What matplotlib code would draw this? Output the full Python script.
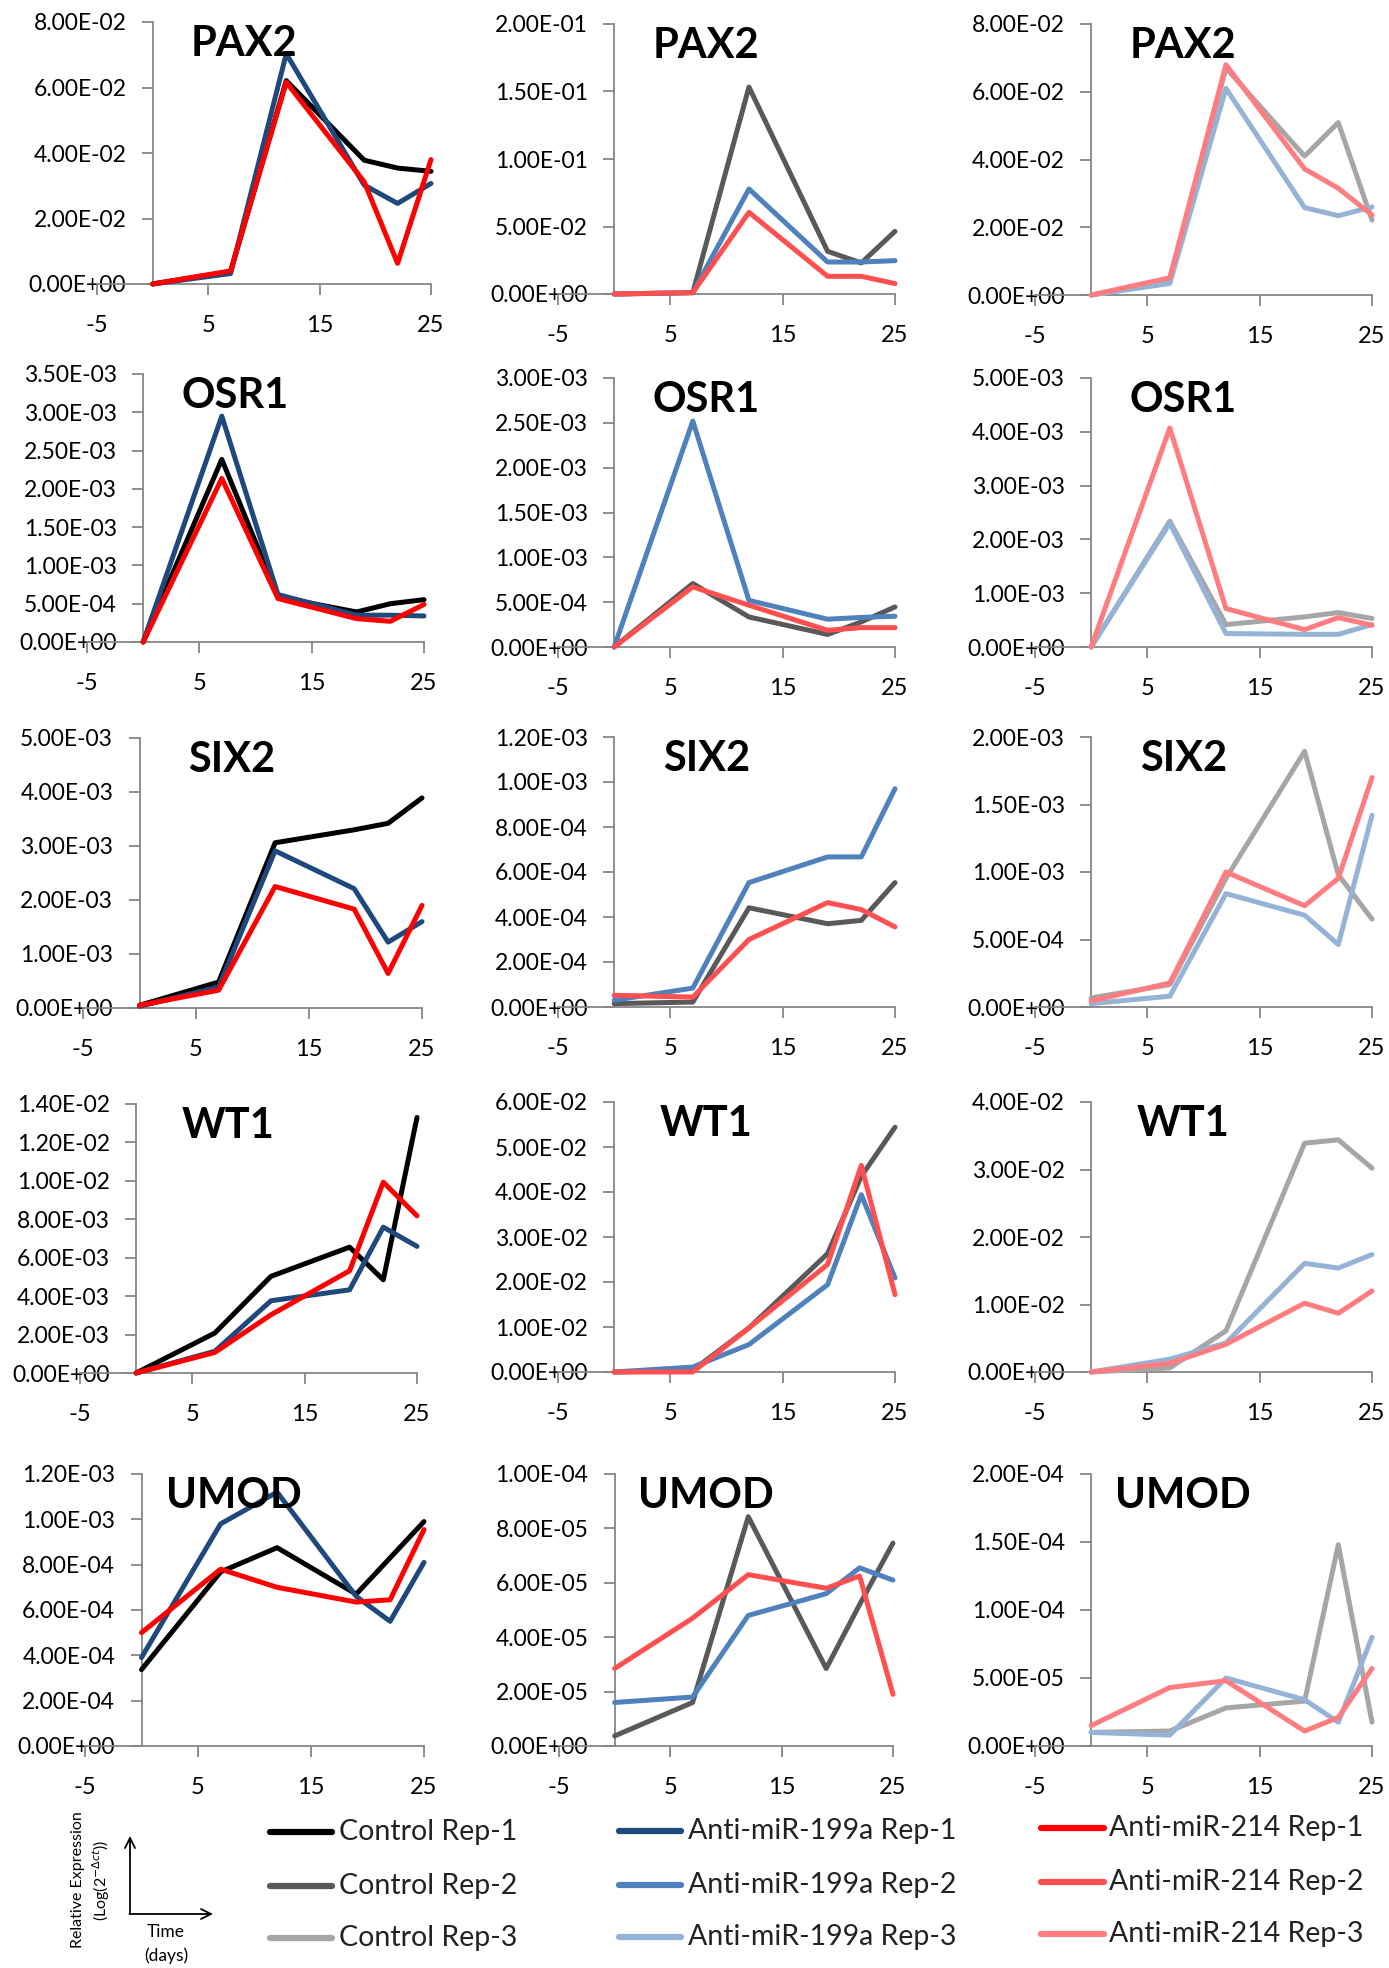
import matplotlib
matplotlib.use("Agg")
import matplotlib.pyplot as plt
from matplotlib.ticker import MultipleLocator, FuncFormatter
import matplotlib.transforms as mtransforms

plt.rcParams['font.family'] = ['Lato', 'DejaVu Sans']
plt.rcParams['axes.unicode_minus'] = False

# sampling days
days = [0, 7, 12, 19, 22, 25]
genes = ["PAX2", "OSR1", "SIX2", "WT1", "UMOD"]
day_ticks = [-5, 5, 15, 25]

# each list holds Rep-1, Rep-2, Rep-3 (one panel column per replicate)
pax2_control = [
    [0.0, 0.0038, 0.0621, 0.0378, 0.0354, 0.0344],
    [0.0, 0.0010, 0.1533, 0.0316, 0.0230, 0.0464],
    [0.0, 0.0040, 0.0670, 0.0410, 0.0509, 0.0221],
]
pax2_199a = [
    [0.0, 0.0032, 0.0703, 0.0302, 0.0246, 0.0307],
    [0.0, 0.0010, 0.0778, 0.0237, 0.0237, 0.0247],
    [0.0, 0.0034, 0.0610, 0.0258, 0.0234, 0.0260],
]
pax2_214 = [
    [0.0, 0.0040, 0.0616, 0.0312, 0.0063, 0.0380],
    [0.0, 0.0010, 0.0605, 0.0131, 0.0131, 0.0077],
    [0.0, 0.0051, 0.0680, 0.0372, 0.0315, 0.0236],
]

osr1_control = [
    [0.0, 2.385e-3, 0.589e-3, 0.392e-3, 0.500e-3, 0.553e-3],
    [0.0, 0.708e-3, 0.335e-3, 0.140e-3, 0.280e-3, 0.447e-3],
    [0.0, 2.340e-3, 0.416e-3, 0.560e-3, 0.640e-3, 0.530e-3],
]
osr1_199a = [
    [0.0, 2.950e-3, 0.620e-3, 0.350e-3, 0.350e-3, 0.340e-3],
    [0.0, 2.520e-3, 0.520e-3, 0.310e-3, 0.330e-3, 0.343e-3],
    [0.0, 2.300e-3, 0.250e-3, 0.236e-3, 0.236e-3, 0.416e-3],
]
osr1_214 = [
    [0.0, 2.136e-3, 0.567e-3, 0.305e-3, 0.270e-3, 0.490e-3],
    [0.0, 0.670e-3, 0.466e-3, 0.186e-3, 0.216e-3, 0.216e-3],
    [0.0, 4.070e-3, 0.714e-3, 0.323e-3, 0.547e-3, 0.404e-3],
]

six2_control = [
    [0.050e-3, 0.480e-3, 3.060e-3, 3.300e-3, 3.420e-3, 3.890e-3],
    [0.015e-3, 0.022e-3, 0.441e-3, 0.370e-3, 0.385e-3, 0.553e-3],
    [0.067e-3, 0.166e-3, 0.953e-3, 1.894e-3, 0.980e-3, 0.651e-3],
]
six2_199a = [
    [0.030e-3, 0.390e-3, 2.910e-3, 2.210e-3, 1.220e-3, 1.600e-3],
    [0.030e-3, 0.084e-3, 0.553e-3, 0.667e-3, 0.667e-3, 0.970e-3],
    [0.025e-3, 0.080e-3, 0.840e-3, 0.680e-3, 0.463e-3, 1.420e-3],
]
six2_214 = [
    [0.050e-3, 0.330e-3, 2.250e-3, 1.830e-3, 0.640e-3, 1.900e-3],
    [0.052e-3, 0.044e-3, 0.300e-3, 0.464e-3, 0.433e-3, 0.356e-3],
    [0.045e-3, 0.178e-3, 1.000e-3, 0.750e-3, 0.953e-3, 1.700e-3],
]

wt1_control = [
    [0.0, 2.08e-3, 5.03e-3, 6.55e-3, 4.85e-3, 13.3e-3],
    [0.0, 0.04e-2, 0.98e-2, 2.63e-2, 4.35e-2, 5.44e-2],
    [0.0, 0.06e-2, 0.61e-2, 3.39e-2, 3.44e-2, 3.02e-2],
]
wt1_199a = [
    [0.0, 1.13e-3, 3.76e-3, 4.33e-3, 7.59e-3, 6.59e-3],
    [0.0, 0.11e-2, 0.61e-2, 1.94e-2, 3.94e-2, 2.09e-2],
    [0.0, 0.19e-2, 0.43e-2, 1.61e-2, 1.54e-2, 1.74e-2],
]
wt1_214 = [
    [0.0, 1.07e-3, 3.03e-3, 5.32e-3, 9.93e-3, 8.18e-3],
    [0.0, 0.00e-2, 0.98e-2, 2.39e-2, 4.59e-2, 1.72e-2],
    [0.0, 0.13e-2, 0.41e-2, 1.02e-2, 0.87e-2, 1.20e-2],
]

umod_control = [
    [3.37e-4, 7.68e-4, 8.75e-4, 6.70e-4, 8.30e-4, 9.90e-4],
    [0.37e-5, 1.60e-5, 8.43e-5, 2.85e-5, 5.20e-5, 7.46e-5],
    [1.00e-5, 1.10e-5, 2.80e-5, 3.30e-5, 1.48e-4, 1.75e-5],
]
umod_199a = [
    [3.90e-4, 9.80e-4, 1.12e-3, 6.60e-4, 5.50e-4, 8.10e-4],
    [1.60e-5, 1.80e-5, 4.80e-5, 5.60e-5, 6.55e-5, 6.10e-5],
    [1.00e-5, 0.80e-5, 5.00e-5, 3.40e-5, 1.75e-5, 8.00e-5],
]
umod_214 = [
    [5.00e-4, 7.80e-4, 7.00e-4, 6.35e-4, 6.45e-4, 9.55e-4],
    [2.85e-5, 4.70e-5, 6.30e-5, 5.80e-5, 6.25e-5, 1.90e-5],
    [1.50e-5, 4.30e-5, 4.80e-5, 1.10e-5, 2.10e-5, 5.70e-5],
]

# (ymax, major step) for the three replicate columns
pax2_yaxis = [(0.08, 0.02), (0.2, 0.05), (0.08, 0.02)]
osr1_yaxis = [(3.5e-3, 5e-4), (3e-3, 5e-4), (5e-3, 1e-3)]
six2_yaxis = [(5e-3, 1e-3), (1.2e-3, 2e-4), (2e-3, 5e-4)]
wt1_yaxis = [(1.4e-2, 2e-3), (6e-2, 1e-2), (4e-2, 1e-2)]
umod_yaxis = [(1.2e-3, 2e-4), (1e-4, 2e-5), (2e-4, 5e-5)]

series_labels = [
    ["Control Rep-1", "Control Rep-2", "Control Rep-3"],
    ["Anti-miR-199a Rep-1", "Anti-miR-199a Rep-2", "Anti-miR-199a Rep-3"],
    ["Anti-miR-214 Rep-1", "Anti-miR-214 Rep-2", "Anti-miR-214 Rep-3"],
]
series_colors = [
    ["#000000", "#595959", "#A6A6A6"],
    ["#1F497D", "#4F81BD", "#95B3D7"],
    ["#FF0000", "#FF4F4F", "#FF7C80"],
]

gene_data = [
    (pax2_control, pax2_199a, pax2_214, pax2_yaxis),
    (osr1_control, osr1_199a, osr1_214, osr1_yaxis),
    (six2_control, six2_199a, six2_214, six2_yaxis),
    (wt1_control, wt1_199a, wt1_214, wt1_yaxis),
    (umod_control, umod_199a, umod_214, umod_yaxis),
]

W, H = 1389, 1968
fig = plt.figure(figsize=(W / 100, H / 100), dpi=100)

# panel boxes in pixels: x of -5 and 25, y of top and bottom
col_left = [[97, 558, 1035], [87, 558, 1035], [83, 558, 1035], [80, 558, 1035], [85, 559, 1035]]
col_right = [[431, 895, 1372], [424, 895, 1372], [422, 895, 1372], [417, 895, 1372], [424, 893, 1372]]
row_top = [[22, 24, 24], [374, 378, 378], [738, 737, 737], [1104, 1102, 1102], [1474, 1474, 1474]]
row_bot = [[284, 294, 295], [642, 647, 647], [1008, 1007, 1007], [1373, 1372, 1372], [1746, 1746, 1746]]

spine_col = "#868686"
sci_fmt = FuncFormatter(lambda v, p: "%.2E" % v)

for r, gene in enumerate(genes):
    ctrl, a199, a214, yaxis = gene_data[r]
    for c in range(3):
        l, rt = col_left[r][c], col_right[r][c]
        t, b = row_top[r][c], row_bot[r][c]
        ax = fig.add_axes([l / W, 1 - b / H, (rt - l) / W, (b - t) / H])
        ymax, step = yaxis[c]

        for g, group in enumerate([ctrl, a199, a214]):
            ax.plot(days, group[c], color=series_colors[g][c], lw=3.6,
                    solid_joinstyle="round", solid_capstyle="round",
                    clip_on=False, zorder=3 + g)

        ax.set_xlim(-5, 25)
        ax.set_ylim(0, ymax)
        ax.set_xticks(day_ticks)
        ax.yaxis.set_major_locator(MultipleLocator(step))
        ax.yaxis.set_major_formatter(sci_fmt)

        for s in ["top", "right"]:
            ax.spines[s].set_visible(False)
        ax.spines["left"].set_position(("data", 0))
        for s in ["left", "bottom"]:
            ax.spines[s].set_color(spine_col)
            ax.spines[s].set_linewidth(1.3)
        ax.tick_params(axis="both", color=spine_col, width=1.3, length=8,
                       direction="out", labelsize=16.5, labelcolor="black")
        ax.tick_params(axis="x", pad=14, labelsize=17)
        ax.tick_params(axis="y", pad=11)
        ax.patch.set_visible(False)

        # gene name inside the panel
        trans = mtransforms.blended_transform_factory(ax.transData, ax.transAxes)
        ax.text(8.2, 1 - 22 / (b - t), gene, transform=trans, ha="center",
                va="center", fontsize=30, fontweight="bold", zorder=10)

# legend and axis key along the bottom
key = fig.add_axes([0, 0, 1, 1])
key.set_xlim(0, W)
key.set_ylim(H, 0)
key.axis("off")

leg_rows = [[1832, 1886, 1938], [1831, 1885, 1937], [1828, 1882, 1934]]
leg_line_x = [(270, 332), (619, 681), (1041, 1104)]
leg_text_x = [339, 688, 1109]
for g in range(3):
    for rep in range(3):
        y = leg_rows[g][rep]
        x0, x1 = leg_line_x[g]
        key.plot([x0, x1], [y, y], color=series_colors[g][rep], lw=4.5,
                 solid_capstyle="round")
        key.text(leg_text_x[g], y, series_labels[g][rep], fontsize=20.5,
                 va="center", ha="left", color="#222222")

key.annotate("", xy=(130, 1836), xytext=(130, 1914),
             arrowprops=dict(arrowstyle="->", lw=1.3, color="black",
                             mutation_scale=18, shrinkA=0, shrinkB=0))
key.annotate("", xy=(213, 1914), xytext=(129.4, 1914),
             arrowprops=dict(arrowstyle="->", lw=1.3, color="black",
                             mutation_scale=18, shrinkA=0, shrinkB=0))
key.text(78, 1880, "Relative Expression", rotation=90, ha="center",
         va="center", fontsize=11.5)
key.text(101, 1880, r"(Log(2$^{-\Delta ct}$))", rotation=90, ha="center",
         va="center", fontsize=11.5)
key.text(166, 1932, "Time", ha="center", va="center", fontsize=12.5)
key.text(166, 1956, "(days)", ha="center", va="center", fontsize=12.5)

fig.savefig("out.png", dpi=100)
